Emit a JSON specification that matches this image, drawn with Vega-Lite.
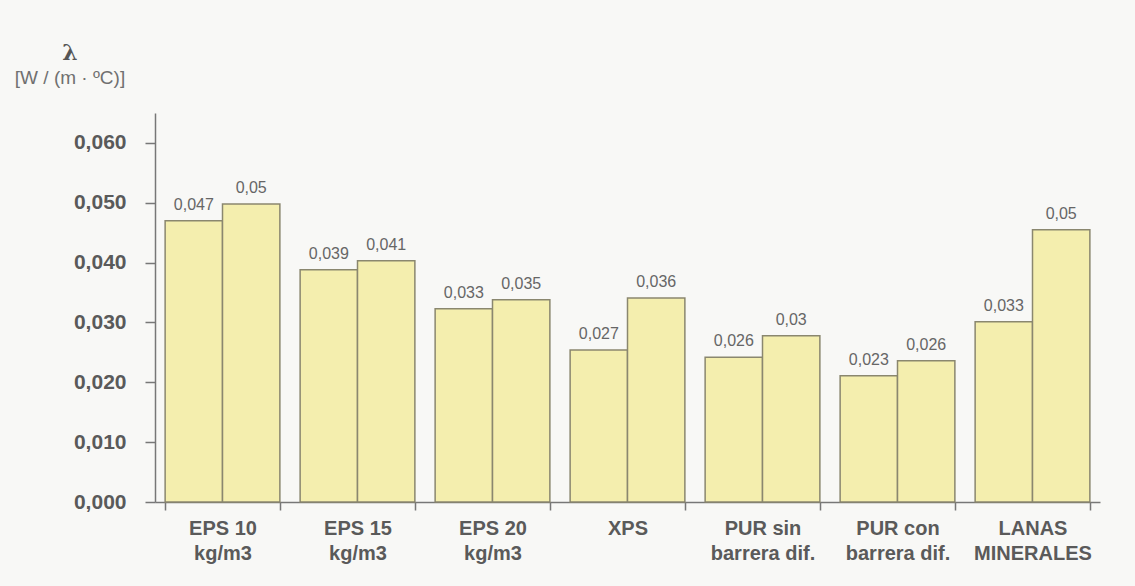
{
  "$schema": "https://vega.github.io/schema/vega-lite/v6.json",
  "width": 945,
  "height": 389,
  "autosize": {"type": "none"},
  "padding": {"left": 155, "top": 113, "right": 35, "bottom": 84},
  "background": "#f8f8f6",
  "title": {
    "text": "λ",
    "subtitle": "[W / (m · ºC)]",
    "anchor": "start",
    "align": "center",
    "frame": "group",
    "dx": -85,
    "offset": 24,
    "font": "DejaVu Serif",
    "fontSize": 22,
    "fontWeight": "bold",
    "color": "#555555",
    "subtitleFont": "Liberation Sans",
    "subtitleFontSize": 19,
    "subtitleColor": "#707070",
    "subtitlePadding": 4
  },
  "data": {
    "values": [
      {"cat": "EPS 10|kg/m3", "s": "a", "v": 0.047, "label": "0,047"},
      {"cat": "EPS 10|kg/m3", "s": "b", "v": 0.0498, "label": "0,05"},
      {"cat": "EPS 15|kg/m3", "s": "a", "v": 0.0388, "label": "0,039"},
      {"cat": "EPS 15|kg/m3", "s": "b", "v": 0.0403, "label": "0,041"},
      {"cat": "EPS 20|kg/m3", "s": "a", "v": 0.0323, "label": "0,033"},
      {"cat": "EPS 20|kg/m3", "s": "b", "v": 0.0338, "label": "0,035"},
      {"cat": "XPS", "s": "a", "v": 0.0254, "label": "0,027"},
      {"cat": "XPS", "s": "b", "v": 0.0341, "label": "0,036"},
      {"cat": "PUR sin|barrera dif.", "s": "a", "v": 0.0242, "label": "0,026"},
      {"cat": "PUR sin|barrera dif.", "s": "b", "v": 0.0278, "label": "0,03"},
      {"cat": "PUR con|barrera dif.", "s": "a", "v": 0.0211, "label": "0,023"},
      {"cat": "PUR con|barrera dif.", "s": "b", "v": 0.0236, "label": "0,026"},
      {"cat": "LANAS|MINERALES", "s": "a", "v": 0.0301, "label": "0,033"},
      {"cat": "LANAS|MINERALES", "s": "b", "v": 0.0455, "label": "0,05"}
    ]
  },
  "encoding": {
    "x": {
      "field": "cat",
      "type": "nominal",
      "sort": null,
      "scale": {"paddingInner": 0.15, "paddingOuter": 0.075},
      "axis": {
        "title": null,
        "labelAngle": 0,
        "labelExpr": "split(datum.label, '|')",
        "labelFont": "Liberation Sans",
        "labelFontSize": 20,
        "labelFontWeight": "bold",
        "labelColor": "#5a5a5a",
        "labelLineHeight": 25,
        "labelPadding": 8,
        "tickBand": "extent",
        "tickSize": 8,
        "tickColor": "#777777",
        "domainColor": "#777777",
        "domainWidth": 1.5,
        "tickWidth": 1.5
      }
    },
    "xOffset": {"field": "s", "type": "nominal"},
    "y": {
      "field": "v",
      "type": "quantitative",
      "scale": {"domain": [0, 0.065], "nice": false, "zero": true},
      "axis": {
        "title": null,
        "values": [0, 0.01, 0.02, 0.03, 0.04, 0.05, 0.06],
        "format": ".3f",
        "grid": false,
        "labelFont": "Liberation Sans",
        "labelFontSize": 21,
        "labelFontWeight": "bold",
        "labelColor": "#5a5a5a",
        "labelPadding": 19,
        "tickSize": 10,
        "tickColor": "#777777",
        "domainColor": "#777777",
        "domainWidth": 1.5,
        "tickWidth": 1.5
      }
    }
  },
  "layer": [
    {
      "mark": {"type": "bar", "fill": "#f4eeae", "stroke": "#8a876f", "strokeWidth": 1.5}
    },
    {
      "mark": {"type": "text", "baseline": "bottom", "dy": -8, "font": "Liberation Sans", "fontSize": 16, "color": "#666666"},
      "encoding": {"text": {"field": "label"}}
    }
  ],
  "config": {
    "view": {"stroke": null},
    "locale": {"number": {"decimal": ",", "thousands": ".", "grouping": [3], "currency": ["", " €"]}}
  }
}
